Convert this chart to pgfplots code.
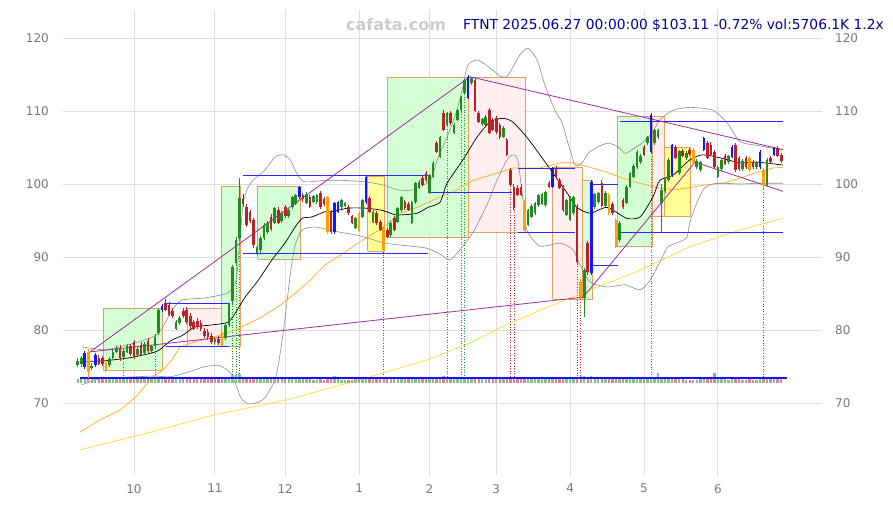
\documentclass[border=0pt]{standalone}
\usepackage{fontspec}
\setmainfont{DejaVu Sans}
\usepackage{pgfplots}
\usepackage{pgfplotstable}
\pgfplotsset{compat=1.18}

\definecolor{cup}{RGB}{34,139,34}
\definecolor{cdn}{RGB}{185,35,40}
\definecolor{cbl}{RGB}{20,20,255}
\definecolor{cor}{RGB}{255,160,0}
\definecolor{volg}{RGB}{130,195,130}
\definecolor{volr}{RGB}{220,130,150}
\definecolor{boxg}{RGB}{204,255,204}
\definecolor{boxp}{RGB}{255,236,236}
\definecolor{boxy}{RGB}{255,255,140}
\definecolor{boxe}{RGB}{225,160,100}
\definecolor{ma1}{RGB}{255,176,48}
\definecolor{ma2}{RGB}{255,220,60}
\definecolor{band}{RGB}{140,140,140}
\definecolor{trend}{RGB}{155,45,160}
\definecolor{hline}{RGB}{40,40,255}
\definecolor{tick}{RGB}{120,120,120}
\definecolor{ttl}{RGB}{0,0,150}

\pgfplotsset{
  % keep only rows whose type column t lies in [#1,#2]
  only type/.style 2 args={restrict expr to domain={\thisrow{t}}{#1:#2}},
}

% i = trading day since 2024-09-09, o h l c, t = 1 up, 2 down, 3 blue, 4 orange, v = volume (M)
\pgfplotstableread{
i o h l c t v
0 75.2 76.1 74.9 75.8 1 5
1 75.3 76.5 75.0 76.2 1 5
2 76.8 77.1 74.7 74.9 3 6
3 77.0 77.4 73.4 74.3 4 6
4 74.8 75.5 74.5 75.1 1 5
5 75.2 76.9 75.0 76.6 3 6
6 76.2 76.6 75.2 75.4 2 4
7 76.1 76.4 75.1 75.4 2 4
8 75.6 75.9 74.2 74.4 4 5
9 75.2 76.3 75.0 76.0 1 5
10 76.2 77.2 76.0 77.0 1 5
11 77.0 77.8 76.8 77.5 1 5
12 77.6 78.0 75.8 76.1 2 5
13 76.3 77.4 76.0 77.1 1 7
14 77.0 78.1 76.8 77.8 1 5
15 77.8 78.1 76.4 76.7 2 4
16 78.3 78.7 76.0 76.3 2 5
17 76.6 77.7 76.3 77.4 1 4
18 77.9 78.3 76.4 76.6 2 4
19 76.8 78.4 76.6 78.1 1 4
20 78.5 78.9 76.8 77.1 2 5
21 77.1 78.0 76.9 77.8 1 4
22 77.8 79.4 77.5 79.1 1 5
23 79.6 83.0 79.3 82.7 1 6
24 82.8 83.6 82.5 83.3 3 6
25 83.7 84.2 82.6 82.8 2 5
26 83.4 83.8 81.9 82.1 2 5
27 82.6 83.0 81.7 81.9 2 4
28 80.2 81.4 80.0 81.1 1 5
29 81.0 81.9 80.7 81.6 1 4
30 82.6 83.0 81.7 81.9 2 4
31 82.7 83.1 80.8 81.1 2 4
32 81.9 82.3 80.2 80.5 2 4
33 81.1 81.4 80.0 80.2 2 4
34 81.3 81.7 80.2 80.4 2 4
35 81.0 81.4 79.9 80.2 2 4
36 79.8 80.3 78.9 79.2 2 5
37 79.7 80.1 78.7 79.0 2 4
38 79.2 79.6 78.1 78.3 2 5
39 78.3 79.1 78.0 78.8 1 4
40 78.8 79.2 78.0 78.2 2 4
41 79.3 79.7 77.8 78.1 4 5
42 78.9 81.0 78.7 80.7 1 5
43 80.7 83.7 80.4 83.5 1 6
44 84.0 88.9 83.6 88.6 1 9
45 89.2 92.8 88.9 92.4 1 10
46 92.6 100.8 92.3 98.1 1 10
47 98.0 98.6 96.8 97.2 2 7
48 96.9 97.3 94.1 94.4 2 6
49 96.1 96.5 94.6 95.0 2 5
50 95.1 95.4 91.3 91.6 2 6
51 90.6 91.7 90.3 91.4 1 5
52 90.9 92.9 90.6 92.6 1 5
53 92.6 94.6 92.4 94.4 1 5
54 93.4 95.0 93.2 94.7 1 4
55 95.5 95.9 93.6 93.8 2 4
56 94.7 96.9 94.5 96.7 1 5
57 96.5 96.8 94.5 94.7 2 4
58 94.9 96.3 94.6 96.0 1 4
59 96.8 97.1 95.4 95.6 2 4
60 95.6 96.7 95.4 96.4 1 4
61 96.8 98.4 96.6 98.2 1 5
62 97.3 98.7 97.1 98.5 1 4
63 98.2 99.7 98.0 99.6 3 5
64 98.5 98.8 97.6 97.9 2 4
65 97.4 98.9 97.2 98.7 1 4
66 98.2 98.5 96.7 96.9 2 4
67 97.6 98.5 97.4 98.3 1 3
68 97.5 98.7 97.3 98.5 1 3
69 98.8 99.1 96.6 96.8 2 4
70 97.9 98.2 97.0 97.2 2 3
71 98.2 98.4 93.2 93.4 4 5
72 96.2 96.5 93.2 93.4 2 5
73 93.4 97.6 93.2 97.4 3 8
74 96.2 97.7 96.0 97.5 3 5
75 96.8 98.0 96.6 97.8 1 3
76 97.0 97.6 96.8 97.4 1 3
77 96.9 97.1 95.8 96.0 2 3
78 95.6 95.8 94.5 94.7 2 3
79 94.0 95.5 93.8 95.3 1 4
80 96.0 96.3 93.4 93.6 4 5
81 95.5 98.0 95.3 97.8 1 5
82 97.5 101.3 97.3 101.0 3 6
83 98.1 98.4 96.0 96.2 2 5
84 94.8 96.4 94.6 96.2 1 4
85 96.0 96.3 94.4 94.6 2 4
86 94.8 95.1 93.5 93.7 2 4
87 94.1 94.3 90.7 90.9 4 5
88 93.7 94.0 92.6 92.8 2 5
89 93.0 94.9 92.8 94.7 1 4
90 95.3 95.6 93.5 93.7 2 4
91 94.8 96.9 94.6 96.7 1 4
92 96.4 98.4 96.2 98.2 1 5
93 97.5 97.8 96.5 96.7 2 4
94 97.2 97.5 96.3 96.5 2 4
95 94.7 97.7 94.5 97.5 1 5
96 97.5 100.3 97.3 100.1 1 5
97 99.5 100.5 99.3 100.3 1 4
98 100.8 101.1 99.7 99.9 2 4
99 101.5 101.8 100.3 100.5 2 4
100 98.8 101.4 98.6 101.2 1 5
101 101.0 103.1 100.8 102.9 1 5
102 105.6 105.9 104.2 104.4 2 6
103 103.7 106.6 103.5 106.4 1 6
104 109.7 110.2 107.2 107.4 2 8
105 108.1 109.9 107.9 109.7 1 6
106 109.7 110.0 108.1 108.3 2 5
107 107.0 108.3 106.8 108.1 1 5
108 108.8 110.3 108.6 110.1 1 5
109 110.1 112.1 109.9 111.9 1 5
110 112.5 114.4 112.3 114.2 1 5
111 111.8 114.9 111.6 114.7 3 7
112 113.8 114.7 113.6 114.5 1 5
113 114.2 114.5 109.8 110.0 2 6
114 109.7 110.0 108.3 108.5 2 5
115 108.2 109.1 108.0 108.9 1 4
116 108.1 109.4 107.9 109.2 1 4
117 110.1 110.4 106.8 107.0 2 5
118 108.8 109.1 107.2 107.4 2 4
119 109.0 109.3 106.9 107.1 2 4
120 108.1 108.4 106.2 106.4 2 4
121 106.5 107.9 106.3 107.7 1 4
122 106.0 106.3 103.8 104.0 2 5
123 101.9 102.2 99.7 99.9 2 6
124 99.6 100.0 96.5 96.7 2 6
125 99.5 99.9 98.3 98.5 2 5
126 99.6 100.0 98.3 98.5 2 5
127 97.5 97.8 93.5 93.7 4 6
128 94.4 96.6 94.2 96.4 1 5
129 95.5 97.2 95.3 97.0 1 5
130 96.0 97.6 95.8 97.4 1 4
131 97.1 98.7 96.9 98.5 1 4
132 97.3 98.8 97.1 98.6 1 4
133 97.1 99.1 96.9 98.9 1 4
134 100.1 100.4 99.4 99.6 2 4
135 99.6 102.4 99.4 102.2 3 5
136 102.2 102.5 100.8 101.0 2 4
137 100.5 100.8 99.3 99.5 2 4
138 99.5 99.8 96.2 96.4 2 5
139 95.8 98.0 95.6 97.8 1 4
140 95.1 98.3 94.9 98.1 1 5
141 96.0 98.4 95.8 98.2 1 5
142 97.0 97.3 89.1 89.3 2 7
143 86.6 87.0 84.2 84.5 4 8
144 84.4 88.5 81.8 88.2 1 8
145 91.9 92.2 87.6 87.9 2 7
146 87.8 100.5 87.5 100.3 3 8
147 96.8 98.8 96.6 98.6 1 6
148 97.5 98.9 97.3 98.8 1 5
149 100.1 100.5 96.8 97.0 2 5
150 97.0 99.0 96.8 98.8 1 4
151 98.5 98.8 95.8 96.0 4 5
152 97.3 97.6 95.8 96.0 2 4
153 95.1 95.4 91.2 91.4 4 5
154 92.3 94.9 92.1 94.7 1 5
155 97.8 98.1 96.6 96.8 2 4
156 97.4 99.8 97.2 99.6 1 4
157 99.6 101.7 99.4 101.5 1 4
158 101.0 102.7 100.8 102.5 1 4
159 102.3 104.6 102.1 104.4 1 5
160 103.0 104.1 102.8 103.9 1 4
161 105.1 105.4 103.8 104.0 2 4
162 105.6 106.6 105.4 106.4 1 5
163 104.4 109.7 104.2 109.5 3 6
164 105.6 107.6 105.4 107.4 1 6
165 106.4 107.6 106.2 107.4 1 11
166 97.4 100.0 93.3 99.2 1 7
167 99.0 101.0 98.8 100.8 1 5
168 100.5 103.5 100.3 103.3 1 5
169 101.2 105.5 101.0 105.3 3 5
170 105.1 105.4 103.4 103.6 2 4
171 101.5 104.7 101.3 104.5 1 4
172 104.5 104.8 103.7 103.9 2 4
173 103.5 104.5 103.3 104.3 1 3
174 104.6 104.9 103.9 104.1 2 3
175 104.7 105.0 102.7 102.9 4 3
176 102.3 103.4 102.1 103.2 1 3
177 101.9 103.2 101.7 103.0 1 4
178 104.7 106.5 104.5 106.3 3 4
179 105.6 105.9 103.4 103.6 2 4
180 105.4 105.7 103.8 104.0 2 5
181 104.4 104.7 102.1 102.3 2 11
182 101.0 102.5 100.8 102.3 1 5
183 102.0 103.5 101.8 103.3 1 4
184 103.8 104.1 102.6 102.8 2 4
185 103.0 104.0 102.8 103.8 1 3
186 103.7 105.3 103.5 105.1 3 4
187 105.3 105.6 101.7 101.9 2 5
188 103.6 103.9 101.8 102.0 2 4
189 102.0 103.4 101.8 103.2 1 3
190 103.5 103.8 102.1 102.3 2 3
191 103.6 103.9 101.7 101.9 4 4
192 103.0 103.3 102.1 102.3 2 3
193 102.3 103.2 102.1 103.0 1 3
194 102.3 104.6 102.1 104.4 3 5
195 101.9 102.2 99.3 99.9 4 6
196 99.9 103.5 99.6 103.3 1 5
197 103.6 103.9 102.8 103.0 2 4
198 104.0 105.1 103.8 104.9 3 4
199 104.9 105.2 103.7 103.9 2 4
200 104.0 104.3 102.9 103.1 2 6
}\candles

% derived columns: bottom of body, body height, wick height, volume bar height
\pgfplotstablecreatecol[expr={min(\thisrow{o},\thisrow{c})}]{bb}{\candles}
\pgfplotstablecreatecol[expr={abs(\thisrow{c}-\thisrow{o})}]{bh}{\candles}
\pgfplotstablecreatecol[expr={\thisrow{h}-\thisrow{l}}]{wh}{\candles}
\pgfplotstablecreatecol[expr={0.12*\thisrow{v}}]{vh}{\candles}

\begin{document}
\begin{tikzpicture}
\useasboundingbox (-63pt,-30pt) rectangle (830pt,475pt);
\begin{axis}[
  at={(0,0)}, anchor=south west,
  width=759pt, height=465pt, scale only axis,
  xmin=-4.18, xmax=211.6, ymin=60.14, ymax=123.84,
  axis line style={draw=none},
  major tick length=0pt,
  grid=major,
  grid style={color=black!13, line width=0.8pt},
  xtick={16,39,59,80,100,119,140,161,182},
  xticklabels={10,11,12,1,2,3,4,5,6},
  ytick={70,80,90,100,110,120},
  /pgf/number format/assume math mode=true,
  tick label style={font=\fontsize{12}{14}\selectfont, color=tick, inner sep=0pt},
  xticklabel style={yshift=-9pt},
  yticklabel style={xshift=-14pt},
  unbounded coords=jump,
]
% boxes
\addplot[fill=boxg, fill opacity=0.85, draw=boxe, line width=1pt] coordinates {(7.2,74.5) (24.0,74.5) (24.0,83.0) (7.2,83.0) (7.2,74.5)};
\addplot[fill=boxp, fill opacity=0.85, draw=boxe, line width=1pt] coordinates {(31.1,77.7) (41.0,77.7) (41.0,83.0) (31.1,83.0) (31.1,77.7)};
\addplot[fill=boxg, fill opacity=0.85, draw=boxe, line width=1pt] coordinates {(41.0,77.7) (46.3,77.7) (46.3,99.6) (41.0,99.6) (41.0,77.7)};
\addplot[fill=boxg, fill opacity=0.85, draw=boxe, line width=1pt] coordinates {(51.2,89.7) (63.4,89.7) (63.4,99.6) (51.2,99.6) (51.2,89.7)};
\addplot[fill=boxy, fill opacity=0.9, draw=boxe, line width=1pt] coordinates {(82.5,90.8) (87.1,90.8) (87.1,101.0) (82.5,101.0) (82.5,90.8)};
\addplot[fill=boxg, fill opacity=0.85, draw=boxe, line width=1pt] coordinates {(88.2,92.7) (111.2,92.7) (111.2,114.6) (88.2,114.6) (88.2,92.7)};
\addplot[fill=boxp, fill opacity=0.85, draw=boxe, line width=1pt] coordinates {(111.2,93.3) (127.2,93.3) (127.2,114.6) (111.2,114.6) (111.2,93.3)};
\addplot[fill=boxp, fill opacity=0.85, draw=boxe, line width=1pt] coordinates {(135.1,84.2) (143.6,84.2) (143.6,102.3) (135.1,102.3) (135.1,84.2)};
\addplot[fill=boxg, fill opacity=0.85, draw=boxe, line width=1pt] coordinates {(143.6,84.2) (146.4,84.2) (146.4,100.5) (143.6,100.5) (143.6,84.2)};
\addplot[fill=boxg, fill opacity=0.85, draw=boxe, line width=1pt] coordinates {(153.6,91.4) (163.5,91.4) (163.5,109.3) (153.6,109.3) (153.6,91.4)};
\addplot[fill=boxp, fill opacity=0.85, draw=boxe, line width=1pt] coordinates {(163.5,95.5) (166.9,95.5) (166.9,109.3) (163.5,109.3) (163.5,95.5)};
\addplot[fill=boxy, fill opacity=0.9, draw=boxe, line width=1pt] coordinates {(166.9,95.5) (174.3,95.5) (174.3,105.0) (166.9,105.0) (166.9,95.5)};

% dotted markers
\addplot[dotted, color=cup, line width=0.6pt] coordinates {
 (13,76.0) (13,73.3) (13,nan) (22,77.5) (22,73.3) (22,nan)
 (44,83.6) (44,73.3) (44,nan) (45,88.9) (45,73.3) (45,nan) (46,92.3) (46,73.3) (46,nan)
 (105,107.9) (105,73.3) (105,nan) (109,109.9) (109,73.3) (109,nan) (110,112.3) (110,73.3) (110,nan)
 (163,104.2) (163,73.3)};
\addplot[dotted, color=cdn, line width=0.6pt] coordinates {
 (87,90.7) (87,73.3) (87,nan) (123,99.7) (123,73.3) (123,nan) (124,96.5) (124,73.3) (124,nan)
 (142,89.1) (142,73.3) (142,nan) (143,84.2) (143,73.3) (143,nan) (195,99.3) (195,73.3)};

% moving averages
\addplot[color=ma2, line width=0.8pt] coordinates {
 (0.65,63.6) (20.6,66.0) (39.0,68.4) (60.1,70.5) (80.3,73.2) (99.3,75.9) (111.5,78.2)
 (120.0,80.3) (131.4,82.7) (143.7,85.1) (159.9,88.2) (174.0,91.4) (188.3,93.7) (200.5,95.3)};
\addplot[color=ma1, line width=0.8pt] coordinates {
 (0.65,66.0) (6.3,67.7) (12.0,69.0) (16.9,71.0) (20.6,73.2) (24.8,74.8) (26.8,75.9) (29.1,77.7) (33.4,78.4)
 (37.6,78.9) (42.7,79.6) (46.1,80.3) (52.4,81.8) (57.5,83.4) (62.3,85.2) (66.0,86.8) (70.3,88.9)
 (75.4,90.5) (82.2,92.7) (86.8,94.0) (91.6,96.0) (96.5,96.8) (101.0,97.8) (107.8,99.2) (112.4,100.5)
 (120.0,101.6) (123.7,102.2) (131.4,102.2) (137.1,102.9) (140.8,102.9) (145.6,102.3) (150.5,101.6)
 (155.0,100.8) (159.9,100.1) (164.7,99.5) (169.2,99.2) (174.0,99.5) (178.8,99.9) (183.4,100.1)
 (188.3,100.8) (193.1,101.6) (197.6,102.2) (200.5,102.3)};
\addplot[smooth, tension=0.4, color=band, line width=0.6pt] coordinates {
 (1.2,77.7) (7.8,77.3) (16.0,78.2) (20.6,78.9) (22.8,79.5) (24.2,80.4) (26.8,82.7) (29.6,84.1) (36.2,84.4)
 (42.7,85.1) (45.0,86.8) (46.1,92.3) (47.0,97.1) (48.1,99.2) (49.8,100.5) (53.2,101.9) (56.1,103.7)
 (58.4,104.0) (60.4,103.3) (62.6,101.2) (64.6,100.3) (70.3,100.5) (75.1,100.5) (81.7,100.3)
 (86.5,99.9) (91.1,99.2) (95.3,99.2) (100.2,100.5) (102.2,103.3) (105.0,106.4) (107.8,110.1)
 (109.5,113.3) (110.9,116.3) (113.8,117.0) (117.2,115.9) (120.1,114.8) (122.0,114.7) (123.7,116.0)
 (125.7,117.7) (128.0,118.6) (130.6,117.0) (132.8,113.6) (135.7,110.1) (137.7,108.4) (139.4,105.6)
 (141.4,102.6) (143.4,102.9) (145.1,104.2) (147.9,105.1) (150.8,105.6) (153.6,105.1) (155.6,104.2)
 (157.6,104.7) (160.4,105.6) (163.3,107.0) (165.5,108.8) (169.2,110.1) (174.0,110.5) (180.6,110.1)
 (184.6,108.4) (188.3,105.8) (193.1,105.3) (197.6,104.9) (200.5,104.7)};
\addplot[smooth, tension=0.4, color=band, line width=0.6pt] coordinates {
 (1.2,72.5) (3.5,72.9) (7.2,73.4) (16.9,73.6) (21.7,73.7) (26.3,73.6) (31.9,74.3)
 (36.2,75.0) (40.4,75.1) (43.3,74.2) (45.0,72.5) (46.4,70.7) (48.4,69.9) (50.7,70.0) (53.2,70.7)
 (56.1,73.2) (57.5,76.6) (58.9,81.4) (60.4,87.5) (61.8,91.6) (63.8,93.7) (67.5,94.1) (74.6,93.4)
 (80.3,92.9) (87.4,91.9) (94.5,91.5) (99.3,91.2) (103.0,90.4) (105.8,89.6) (108.7,91.0) (112.4,93.4)
 (116.3,97.1) (119.2,100.5) (122.0,103.3) (123.7,104.0) (125.1,103.3) (126.6,97.8) (127.7,93.7)
 (131.4,91.5) (137.1,91.9) (140.8,91.0) (142.8,88.9) (145.6,86.6) (150.5,85.9) (155.6,86.2)
 (159.9,85.5) (162.7,86.8) (165.5,89.3) (167.8,91.4) (171.2,92.1) (173.2,92.7) (174.0,94.7)
 (176.0,97.4) (178.3,99.5) (181.7,100.1) (188.3,100.0) (193.1,100.1) (200.5,100.1)};
\addplot[smooth, tension=0.4, color=black, line width=0.7pt] coordinates {
 (2.5,75.7) (7.8,75.8) (14.8,76.2) (20.6,76.8) (23.0,77.2) (26.3,78.5) (29.9,79.3)
 (33.3,80.4) (38.2,80.7) (42.4,81.0) (44.1,81.8) (47.6,84.5) (51.3,86.8) (55.2,89.6) (58.9,91.9)
 (61.8,94.1) (63.8,95.3) (66.6,95.5) (70.3,96.2) (72.3,96.2) (76.8,96.7) (81.7,96.7) (86.5,96.4)
 (90.2,95.8) (93.0,95.8) (96.5,96.0) (99.6,96.8) (103.0,97.5) (105.0,100.1) (109.5,103.3)
 (113.5,106.4) (117.2,108.5) (120.9,109.0) (123.7,108.5) (127.7,106.4) (131.4,104.0) (135.1,101.5)
 (139.1,98.8) (141.9,96.8) (145.7,96.0) (150.5,96.8) (156.1,95.3) (159.9,95.5) (163.5,98.2)
 (165.5,100.5) (169.2,101.2) (174.0,103.3) (177.7,104.0) (182.6,103.6) (188.3,102.9) (193.1,103.0)
 (200.5,102.6)};

% support and resistance
\addplot[color=hline, line width=0.9pt] coordinates {
 (25.1,83.7) (43.0,83.7) (43.0,nan) (25.1,77.8) (43.0,77.8) (43.0,nan)
 (47.0,101.2) (99.6,101.2) (99.6,nan) (47.0,90.5) (99.6,90.5) (99.6,nan)
 (100.2,98.9) (123.4,98.9) (123.4,nan) (125.1,102.1) (141.4,102.1) (141.4,nan)
 (125.1,93.4) (141.4,93.4) (141.4,nan) (146.2,100.0) (153.6,100.0) (153.6,nan)
 (146.2,88.8) (153.6,88.8) (153.6,nan) (154.2,108.6) (200.5,108.6) (200.5,nan)
 (154.2,93.4) (200.5,93.4)};

% trend lines
\addplot[color=trend, line width=0.8pt] coordinates {
 (3.5,77.0) (111.5,114.7) (200.5,104.7) (200.5,nan)
 (3.5,77.0) (143.7,84.5) (175.5,103.0) (200.5,99.0)};

% volume
\addplot[mark=none, only type={1}{1}, color=volg, quiver={u=0, v=\thisrow{vh}, every arrow/.style={line width=2.4pt}}] table[x=i, y expr=72.75] {\candles};
\addplot[mark=none, only type={3}{3}, color=volg, quiver={u=0, v=\thisrow{vh}, every arrow/.style={line width=2.4pt}}] table[x=i, y expr=72.75] {\candles};
\addplot[mark=none, only type={2}{2}, color=volr, quiver={u=0, v=\thisrow{vh}, every arrow/.style={line width=2.4pt}}] table[x=i, y expr=72.75] {\candles};
\addplot[mark=none, only type={4}{4}, color=volr, quiver={u=0, v=\thisrow{vh}, every arrow/.style={line width=2.4pt}}] table[x=i, y expr=72.75] {\candles};
\addplot[color=cbl, line width=1.8pt] coordinates {(0.6,73.45) (201.6,73.45)};

% candles: wick from low, body from min(open, close)
\addplot[mark=none, only type={1}{1}, color=cup, quiver={u=0, v=\thisrow{wh}, every arrow/.style={line width=0.8pt}}] table[x=i, y=l] {\candles};
\addplot[mark=none, only type={1}{1}, color=cup, quiver={u=0, v=\thisrow{bh}, every arrow/.style={line width=2.6pt}}] table[x=i, y=bb] {\candles};
\addplot[mark=none, only type={2}{2}, color=cdn, quiver={u=0, v=\thisrow{wh}, every arrow/.style={line width=0.8pt}}] table[x=i, y=l] {\candles};
\addplot[mark=none, only type={2}{2}, color=cdn, quiver={u=0, v=\thisrow{bh}, every arrow/.style={line width=2.6pt}}] table[x=i, y=bb] {\candles};
\addplot[mark=none, only type={3}{3}, color=cbl, quiver={u=0, v=\thisrow{wh}, every arrow/.style={line width=0.8pt}}] table[x=i, y=l] {\candles};
\addplot[mark=none, only type={3}{3}, color=cbl, quiver={u=0, v=\thisrow{bh}, every arrow/.style={line width=2.6pt}}] table[x=i, y=bb] {\candles};
\addplot[mark=none, only type={4}{4}, color=cor, quiver={u=0, v=\thisrow{wh}, every arrow/.style={line width=0.8pt}}] table[x=i, y=l] {\candles};
\addplot[mark=none, only type={4}{4}, color=cor, quiver={u=0, v=\thisrow{bh}, every arrow/.style={line width=2.6pt}}] table[x=i, y=bb] {\candles};
\end{axis}

\begin{axis}[
  at={(0,0)}, anchor=south west,
  width=759pt, height=465pt, scale only axis,
  xmin=-4.18, xmax=211.6, ymin=60.14, ymax=123.84,
  axis line style={draw=none},
  major tick length=0pt,
  xtick=\empty,
  ytick={70,80,90,100,110,120},
  yticklabel pos=right,
  /pgf/number format/assume math mode=true,
  tick label style={font=\fontsize{12}{14}\selectfont, color=tick, inner sep=0pt},
  yticklabel style={xshift=13pt},
]
\addplot[draw=none] coordinates {(0,70)};
\end{axis}

\node[anchor=west, inner sep=0pt, text=black!20, font=\fontsize{16}{18}\selectfont\bfseries] at (283pt,450pt) {cafata.com};
\node[anchor=west, inner sep=0pt, text=ttl, font=\fontsize{13.8}{16}\selectfont] at (400pt,450pt) {FTNT 2025.06.27 00:00:00 \$103.11 -0.72\% vol:5706.1K 1.2x};
\end{tikzpicture}
\end{document}
